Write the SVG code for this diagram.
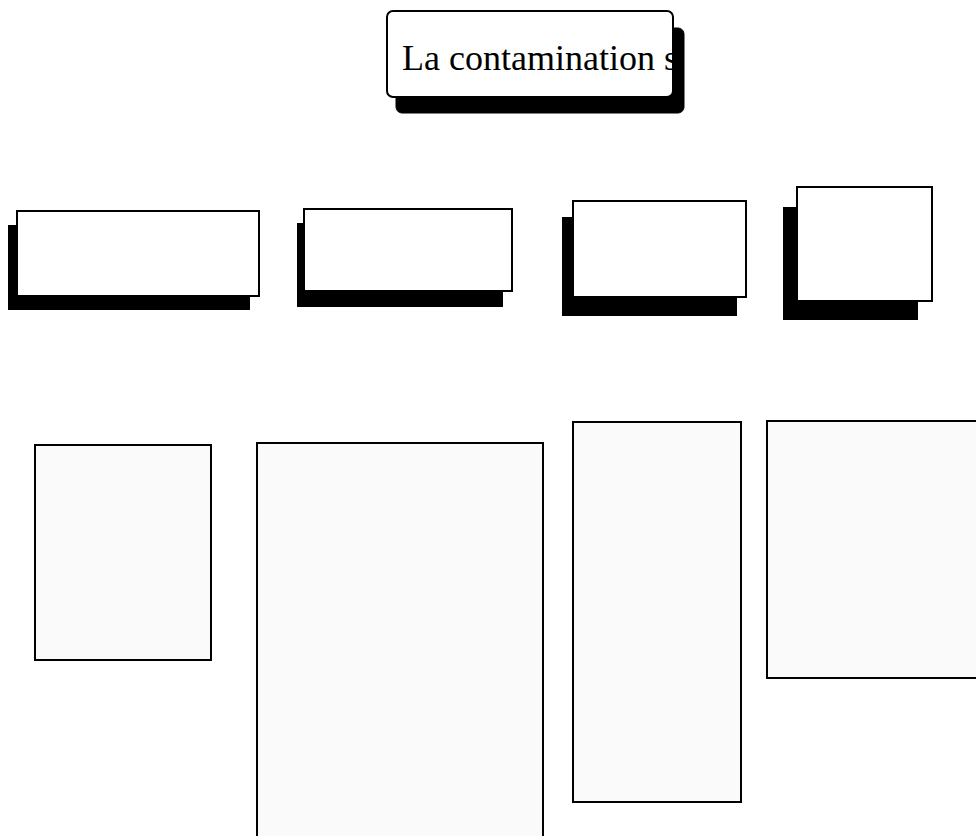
<svg xmlns="http://www.w3.org/2000/svg" width="976" height="836" viewBox="0 0 976 836">
<style>
.sh{fill:#000;stroke:#000;stroke-width:1}
.fr{fill:#fff;stroke:#000;stroke-width:2}
.pn{fill:#fafafa;stroke:#000;stroke-width:2}
.tt{font-family:"Liberation Serif","Times New Roman",serif;font-size:36px;fill:#000}
</style>
<defs>
<clipPath id="tclip"><rect x="388" y="12" width="284" height="84"/></clipPath>
</defs>
<g id="title">
<rect class="sh" x="396" y="28" width="288" height="85" rx="6"/>
<rect class="fr" x="387" y="11" width="286" height="86" rx="6"/>
<text class="tt" x="402" y="70" clip-path="url(#tclip)">La contamination s</text>
</g>
<g id="box1">
<rect class="sh" x="8.5" y="225.5" width="241" height="84"/>
<rect class="fr" x="17" y="211" width="242" height="85"/>
</g>
<g id="box2">
<rect class="sh" x="297.5" y="223.5" width="205" height="83"/>
<rect class="fr" x="304" y="209" width="208" height="82"/>
</g>
<g id="box3">
<rect class="sh" x="562.5" y="217.5" width="174" height="98"/>
<rect class="fr" x="573" y="201" width="173" height="96"/>
</g>
<g id="box4">
<rect class="sh" x="783.5" y="207.5" width="134" height="112"/>
<rect class="fr" x="797" y="187" width="135" height="114"/>
</g>
<g id="panelA"><rect class="pn" x="35" y="445" width="176" height="215"/></g>
<g id="panelB"><rect class="pn" x="257" y="443" width="286" height="400"/></g>
<g id="panelC"><rect class="pn" x="573" y="422" width="168" height="380"/></g>
<g id="panelD"><rect class="pn" x="767" y="421" width="220" height="257"/></g>
<g id="connectors"></g>
</svg>
